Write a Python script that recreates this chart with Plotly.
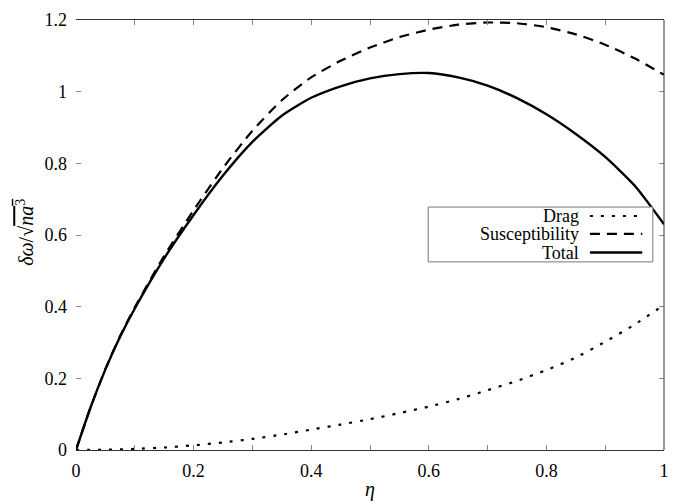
import plotly.graph_objects as go

# Data
eta = [0.0, 0.025, 0.05, 0.075, 0.1, 0.15, 0.2, 0.25, 0.3, 0.35, 0.4, 0.45, 0.5,
       0.55, 0.6, 0.65, 0.7, 0.75, 0.8, 0.85, 0.9, 0.95, 1.0]
drag = [0.0, 0.0002, 0.0006, 0.0015, 0.003, 0.007, 0.013, 0.021, 0.031, 0.043, 0.057,
        0.071, 0.086, 0.103, 0.121, 0.142, 0.167, 0.193, 0.223, 0.258, 0.302, 0.35, 0.405]
susceptibility = [0.0, 0.12, 0.226, 0.318, 0.398, 0.542, 0.669, 0.787, 0.891, 0.976, 1.04,
                  1.086, 1.123, 1.152, 1.173, 1.187, 1.193, 1.191, 1.18, 1.16, 1.131,
                  1.093, 1.047]
total = [0.0, 0.12, 0.225, 0.316, 0.395, 0.535, 0.656, 0.766, 0.860, 0.933, 0.983,
         1.015, 1.037, 1.049, 1.052, 1.040, 1.017, 0.982, 0.937, 0.882, 0.818, 0.738, 0.630]

series_names = ["Drag", "Susceptibility", "Total"]
x_ticks = [0, 0.2, 0.4, 0.6, 0.8, 1.0]
x_ticktext = ["0", "0.2", "0.4", "0.6", "0.8", "1"]
y_ticks = [0, 0.2, 0.4, 0.6, 0.8, 1.0, 1.2]
y_ticktext = ["0", "0.2", "0.4", "0.6", "0.8", "1", "1.2"]

FONT = "Liberation Serif"
styles = [
    dict(color="black", width=2.2, dash="3px,8px"),
    dict(color="black", width=2.2, dash="10px,7px"),
    dict(color="black", width=2.4, dash="solid"),
]

fig = go.Figure()
for name, ys, st in zip(series_names, [drag, susceptibility, total], styles):
    fig.add_trace(go.Scatter(x=eta, y=ys, mode="lines", name=name,
                             line=dict(shape="spline", smoothing=0.6, **st),
                             showlegend=False, hoverinfo="skip"))

fig.update_layout(
    width=674, height=502,
    margin=dict(l=76, r=10, t=20, b=52),
    paper_bgcolor="white", plot_bgcolor="white",
    font=dict(family=FONT, size=18, color="black"),
)
fig.update_xaxes(
    range=[0, 1], tickvals=x_ticks, ticktext=x_ticktext,
    ticks="inside", ticklen=5, tickcolor="#888", tickwidth=1,
    minor=dict(dtick=0.1, tick0=0, ticks="inside", ticklen=5, tickcolor="#888"),
    showline=True, linecolor="#333", linewidth=1, mirror="ticks",
    showgrid=False, zeroline=False, automargin=False,
    ticklabelstandoff=4,
)
fig.update_yaxes(
    range=[0, 1.2], tickvals=y_ticks, ticktext=y_ticktext,
    ticks="inside", ticklen=5, tickcolor="#888", tickwidth=1,
    showline=False, mirror="ticks",
    showgrid=False, zeroline=False, automargin=False,
    ticklabelstandoff=8,
)
# axis titles
fig.add_annotation(xref="paper", yref="paper", x=0.5, y=-0.092, yanchor="middle",
                   text="<i>η</i>", showarrow=False, font=dict(size=20, family=FONT))
fig.add_annotation(xref="paper", yref="paper", x=-0.087, y=0.507, xanchor="center",
                   yanchor="middle", textangle=-90, showarrow=False,
                   text="<i>δω</i>/√<span style='text-decoration:overline'><i>na</i><sup>3</sup></span>",
                   font=dict(size=20, family=FONT))
# right border line
fig.add_shape(type="line", xref="x domain", yref="y domain", x0=1, x1=1, y0=0, y1=1,
              line=dict(color="#333", width=1))

# custom legend (text on the left, sample on the right)
fig.add_shape(type="rect", xref="x", yref="y", x0=0.599, x1=0.981, y0=0.525, y1=0.678,
              line=dict(color="#777", width=1), fillcolor="white", layer="above")
rows_y = [0.653, 0.603, 0.551]
for name, st, ry in zip(series_names, styles, rows_y):
    fig.add_annotation(x=0.857, y=ry, xref="x", yref="y", text=name, showarrow=False,
                       xanchor="right", yanchor="middle", borderpad=0,
                       font=dict(size=18, family=FONT))
    fig.add_shape(type="line", xref="x", yref="y", x0=0.874, x1=0.963, y0=ry, y1=ry,
                  line=dict(color="black", width=st["width"], dash=st["dash"]), layer="above")

fig.write_html("out.html", config={"displayModeBar": False},
               post_script="document.body.style.margin='0';")
